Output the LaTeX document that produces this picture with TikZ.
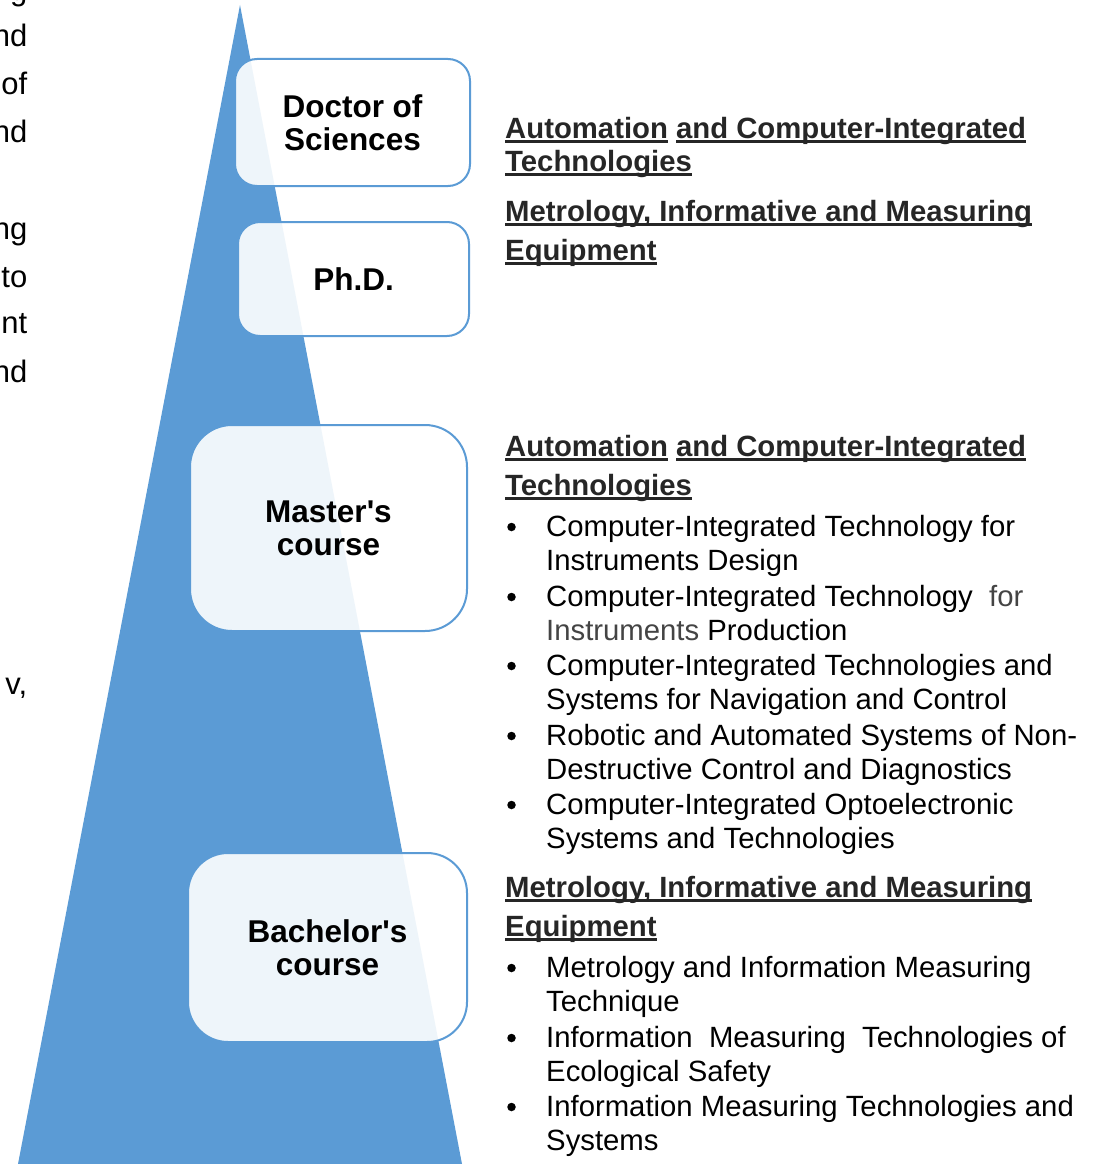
\documentclass[tikz,border=0pt]{standalone}
\usepackage{fontspec}
\setmainfont{Liberation Sans}
\usepackage{xcolor}
\usepackage{tikz}

\definecolor{pyramid}{HTML}{5B9BD5}
\definecolor{headgray}{HTML}{262626}
\definecolor{softgray}{HTML}{444444}
% underline that leaves the space between words open
\newcommand{\ulword}[1]{\setbox0\hbox{#1}\rlap{\rule[-4.2pt]{\wd0}{2.6pt}}\box0\relax}

\begin{document}
\begin{tikzpicture}[x=1pt,y=-1pt,
	level/.style={draw=pyramid, line width=2pt, fill=white, fill opacity=.9, text opacity=1,
		align=center, inner sep=0pt, font=\fontsize{31.5}{33}\selectfont\bfseries},
	heading/.style={anchor=base west, inner sep=0pt, text=headgray,
		font=\fontsize{29.3}{34}\selectfont\bfseries},
	itemline/.style={anchor=base west, inner sep=0pt, font=\fontsize{29.3}{34}\selectfont},
	dot/.style={circle, fill=black, inner sep=0pt, minimum size=8.5pt}]

			\useasboundingbox (0,0) rectangle (1097,1164);

			% pyramid
			\coordinate (apex) at (240,5);
			\coordinate (baseR) at (462,1164);
			\coordinate (baseL) at (18,1164);
			\fill [pyramid] (apex) -- (baseR) -- (baseL) -- cycle;

			% levels
			\node [level, minimum width=235, minimum height=127, rounded corners=22] (doctor) at (352.5,122.5) {Doctor of\\Sciences};
			\node [level, minimum width=231, minimum height=114, rounded corners=22] (phd) at (353.5,279) {Ph.D.};
			\node [level, minimum width=277, minimum height=206, rounded corners=42] (master) at (328.5,528) {Master\textquotesingle s\\course};
			\node [level, minimum width=279, minimum height=189, rounded corners=40] (bachelor) at (327.5,947.5) {Bachelor\textquotesingle s\\course};

			% cut-off words of the page text
			\foreach \y/\w [count=\i] in {1/g, 47/nd, 94/of, 142/nd, 239/ng, 287/to, 333/nt, 382/nd, 694/{v,}} {
				\node [itemline, anchor=base east, font=\fontsize{31}{34}\selectfont] (frag\i) at (27.5,\y) {\w};
			}

			% doctoral studies
			\node [heading] (docA) at (505,138.5) {\ulword{Automation} \ulword{and Computer-Integrated}};
			\node [heading] (docB) at (505,171.5) {\ulword{Technologies}};
			\node [heading] (docC) at (505,221.5) {\ulword{Metrology, Informative and Measuring}};
			\node [heading] (docD) at (505,260.5) {\ulword{Equipment}};

			% master's programmes
			\node [heading] (masA) at (505,456.5) {\ulword{Automation} \ulword{and Computer-Integrated}};
			\node [heading] (masB) at (505,495.5) {\ulword{Technologies}};
			\foreach \y/\a/\b [count=\i] in {
				536.5/{Computer-Integrated Technology for}/{Instruments Design},
				606.5/{Computer-Integrated Technology\ \ {\color{softgray}for}}/{{\color{softgray}Instruments} Production},
				675.5/{Computer-Integrated Technologies and}/{Systems for Navigation and Control},
				745.5/{Robotic and Automated Systems of Non-}/{Destructive Control and Diagnostics},
				814.5/{Computer-Integrated Optoelectronic}/{Systems and Technologies}} {
				\node [dot] (mdot\i) at (511.5,\y-9.5) {};
				\node [itemline] (mfirst\i) at (546,\y) {\a};
				\node [itemline] (msecond\i) at (546,\y+34) {\b};
			}

			% bachelor's programmes
			\node [heading] (bacA) at (505,897.5) {\ulword{Metrology, Informative and Measuring}};
			\node [heading] (bacB) at (505,936.5) {\ulword{Equipment}};
			\foreach \y/\a/\b [count=\i] in {
				977.5/{Metrology and Information Measuring}/{Technique},
				1047.5/{Information\ \ Measuring\ \ Technologies of}/{Ecological Safety},
				1116.5/{Information Measuring Technologies and}/{Systems}} {
				\node [dot] (bdot\i) at (511.5,\y-9.5) {};
				\node [itemline] (bfirst\i) at (546,\y) {\a};
				\node [itemline] (bsecond\i) at (546,\y+33.5) {\b};
			}
		\end{tikzpicture}
\end{document}
